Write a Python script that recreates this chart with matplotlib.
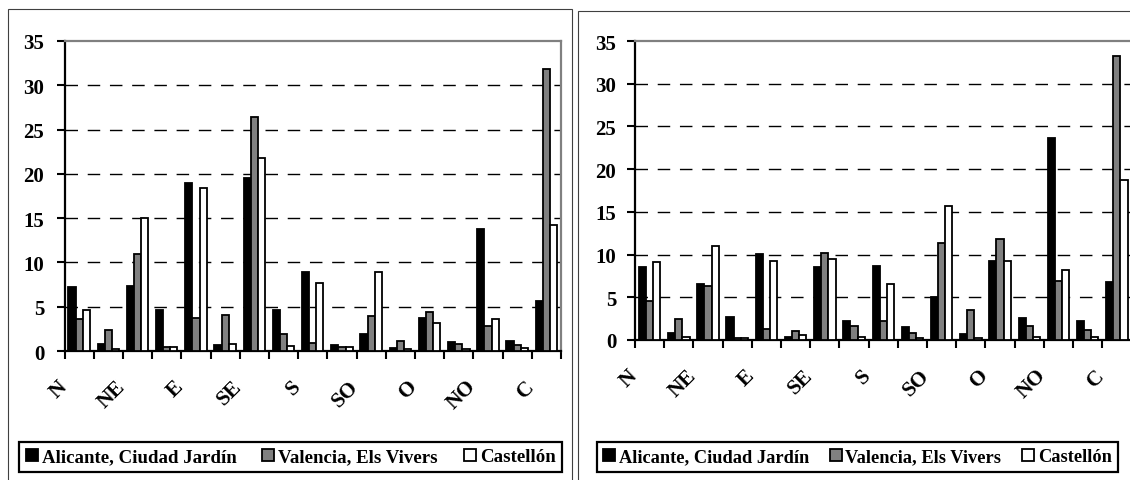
import numpy as np
import matplotlib
matplotlib.use("Agg")
import matplotlib.pyplot as plt
import matplotlib.transforms as mtransforms
from matplotlib.patches import Rectangle

plt.rcParams['font.family'] = ['Liberation Serif', 'DejaVu Serif']
plt.rcParams['font.weight'] = 'bold'

# ── Data ───────────────────────────────────────────────────────────────────────
directions = ["N", "NNE", "NE", "ENE", "E", "ESE", "SE", "SSE", "S",
              "SSO", "SO", "OSO", "O", "ONO", "NO", "NNO", "C"]
shown_labels = ["N", "NE", "E", "SE", "S", "SO", "O", "NO", "C"]
series_names = ["Alicante, Ciudad Jardín", "Valencia, Els Vivers", "Castellón"]

# left panel
alicante_1  = [7.2, 0.8, 7.3, 4.6, 19.0, 0.7, 19.5, 4.6, 8.9, 0.7, 1.9, 0.3, 3.7, 1.0, 13.8, 1.1, 5.7]
valencia_1  = [3.6, 2.4, 10.9, 0.4, 3.7, 4.1, 26.4, 1.9, 0.9, 0.5, 3.9, 1.1, 4.4, 0.8, 2.8, 0.7, 31.8]
castellon_1 = [4.6, 0.2, 15.0, 0.4, 18.4, 0.8, 21.8, 0.6, 7.7, 0.5, 8.9, 0.2, 3.2, 0.2, 3.6, 0.3, 14.2]

# right panel
alicante_2  = [8.5, 0.8, 6.6, 2.7, 10.1, 0.4, 8.6, 2.2, 8.7, 1.5, 5.0, 0.7, 9.3, 2.6, 23.7, 2.2, 6.8]
valencia_2  = [4.6, 2.4, 6.3, 0.2, 1.3, 1.1, 10.2, 1.6, 2.2, 0.8, 11.4, 3.5, 11.8, 1.6, 6.9, 1.2, 33.2]
castellon_2 = [9.1, 0.3, 11.0, 0.2, 9.2, 0.6, 9.5, 0.4, 6.5, 0.2, 15.7, 0.2, 9.3, 0.3, 8.2, 0.3, 18.7]

colors = ["#000000", "#808080", "#ffffff"]

W, H = 1130, 481
fig = plt.figure(figsize=(W / 100, H / 100), dpi=100)


def fx(px):
    return px / W


def fy(px):
    return 1 - px / H


def draw_panel(ax, series, legend_box, legend_size, ypad):
    x = np.arange(len(directions))
    w = 0.245
    for i, (vals, col, name) in enumerate(zip(series, colors, series_names)):
        ax.bar(x + (i - 1) * w, vals, w, color=col, edgecolor="black",
               linewidth=1.3, label=name, zorder=3)

    ax.set_xlim(-0.5, len(directions) - 0.5)
    ax.set_ylim(0, 35)
    ax.set_yticks(np.arange(0, 36, 5))
    ax.set_yticklabels([str(v) for v in range(0, 36, 5)], fontsize=15,
                       fontweight="bold")
    ax.set_xticks(np.arange(-0.5, len(directions)))
    ax.set_xticklabels([])
    ax.tick_params(axis="x", direction="out", length=5.5, width=1.5)
    ax.tick_params(axis="y", direction="out", length=5.5, width=1.5, pad=ypad)

    for v in range(5, 35, 5):
        ax.axhline(v, color="black", linewidth=1.0, dashes=(9, 7), zorder=1)

    for s in ["left", "bottom"]:
        ax.spines[s].set_color("black")
        ax.spines[s].set_linewidth(1.6)
    for s in ["top", "right"]:
        ax.spines[s].set_color("#808080")
        ax.spines[s].set_linewidth(1.6)

    trans = mtransforms.offset_copy(ax.get_xaxis_transform(), fig=fig,
                                    x=0, y=-25 * 0.72, units="points")
    for lab in shown_labels:
        i = directions.index(lab)
        ax.text(i - 0.28, 0, lab, transform=trans, rotation=45, ha="right",
                va="top", fontsize=15.5, fontweight="bold")

    x0, y0, x1, y1 = legend_box
    leg = ax.legend(loc="center", ncol=3, mode="expand",
                    bbox_to_anchor=(fx(x0), fy(y1), fx(x1) - fx(x0), fy(y0) - fy(y1)),
                    bbox_transform=fig.transFigure, frameon=True, fancybox=False,
                    edgecolor="black", framealpha=1, borderpad=0.35,
                    handlelength=0.65, handleheight=0.65, handletextpad=0.2,
                    borderaxespad=0, prop={"size": legend_size, "weight": "bold"})
    leg.get_frame().set_linewidth(1.6)
    for hnd in leg.legend_handles:
        hnd.set_linewidth(1.3)


# ── Left panel ─────────────────────────────────────────────────────────────────
ax1 = fig.add_axes([fx(64.5), fy(352), fx(561) - fx(64.5), fy(42) - fy(352)])
draw_panel(ax1, [alicante_1, valencia_1, castellon_1], (19, 442, 562, 474), 13.6, 9)

# ── Right panel ────────────────────────────────────────────────────────────────
ax2 = fig.add_axes([fx(635), fy(341), fx(1131.5) - fx(635), fy(42) - fy(341)])
draw_panel(ax2, [alicante_2, valencia_2, castellon_2], (597, 442, 1118, 474), 13.2, 8)

# outer chart borders
fig.add_artist(Rectangle((fx(8.3), -0.05), fx(571.7) - fx(8.3), fy(10) + 0.05,
                         transform=fig.transFigure, fill=False,
                         edgecolor="#404040", linewidth=0.8))
fig.add_artist(Rectangle((fx(578.3), -0.05), 0.5, fy(11.7) + 0.05,
                         transform=fig.transFigure, fill=False,
                         edgecolor="#404040", linewidth=0.8))

fig.savefig("out.png", dpi=100)
